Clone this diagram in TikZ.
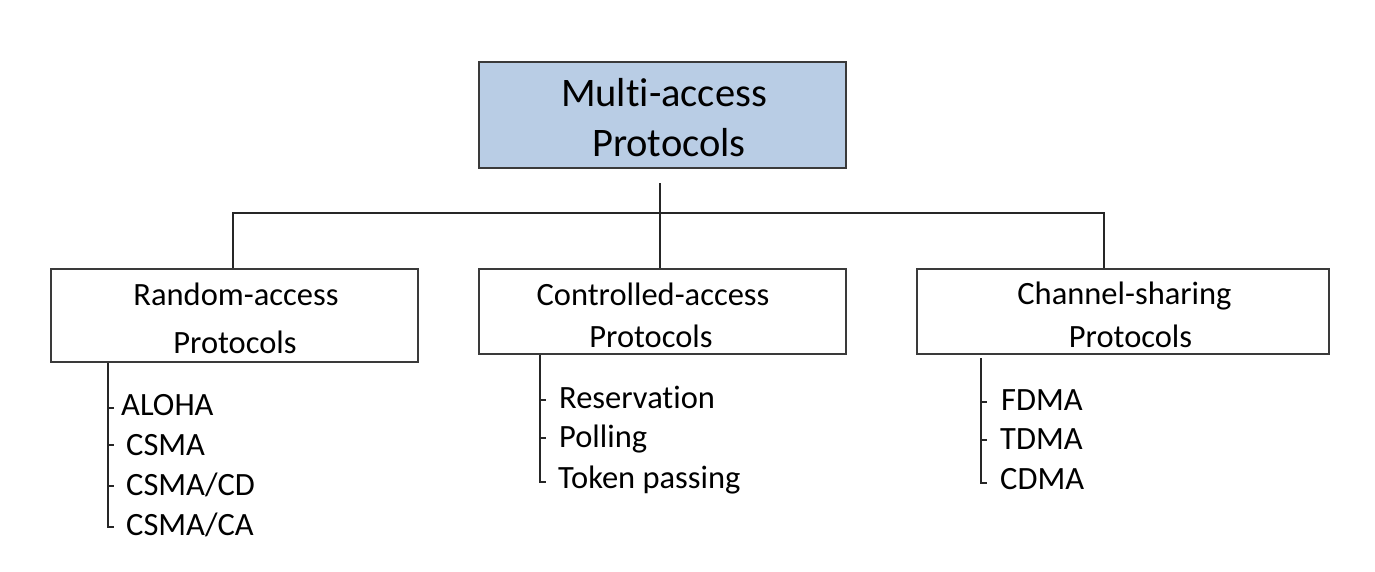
\documentclass[tikz,border=0pt]{standalone}
\usepackage{fontspec}
\setmainfont{Carlito}[Ligatures={NoCommon}]
\definecolor{topfill}{HTML}{B9CDE5}
\definecolor{edge}{HTML}{3A3A3A}
\begin{document}
\begin{tikzpicture}[x=1pt,y=-1pt,
  box/.style={draw=edge,line width=1.8pt,inner sep=0pt},
  big/.style={inner sep=0pt,font=\fontsize{40.5}{48}\selectfont,text height=25.6pt,text depth=0pt},
  mid/.style={inner sep=0pt,font=\fontsize{32.5}{39}\selectfont,text height=20.5pt,text depth=0pt},
  item/.style={inner sep=0pt,anchor=west,font=\fontsize{32.5}{39}\selectfont,text height=20.5pt,text depth=0pt},
  conn/.style={draw=black!85,line width=1.4pt}]
\useasboundingbox (0,0) rectangle (1375,571);
% boxes
\node[box,fill=topfill,minimum width=367,minimum height=106] (top) at (662.5,115) {};
\node[box,minimum width=367,minimum height=92.5] (ra) at (234.5,315.5) {};
\node[box,minimum width=367,minimum height=85] (ca) at (662.5,311.5) {};
\node[box,minimum width=412,minimum height=85] (cs) at (1123,311.5) {};
% box texts
\node[big] (t1) at (664,94) {Multi-access};
\node[big] (t2) at (669,144) {Protocols};
\node[mid] (ra1) at (236,295) {Random-access};
\node[mid] (ra2) at (235,343) {Protocols};
\node[mid] (ca1) at (653,295) {Controlled-access};
\node[mid] (ca2) at (651,337) {Protocols};
\node[mid] (cs1) at (1124.5,294) {Channel-sharing};
\node[mid] (cs2) at (1130.5,337.5) {Protocols};
% tree connectors
\coordinate (s) at (660,183);
\coordinate (j) at (660,213);
\coordinate (jl) at (233,213);
\coordinate (jr) at (1104,213);
\draw[conn] (s) -- (j) -- (ca.north -| j);
\draw[conn] (ra.north -| jl) -- (jl) -- (jr) -- (cs.north -| jr);
% list items
\node[item] (i1) at (121,405) {ALOHA};
\node[item] (i2) at (126,445) {CSMA};
\node[item] (i3) at (126,485) {CSMA/CD};
\node[item] (i4) at (126,525) {CSMA/CA};
\node[item] (m1) at (559,398) {Reservation};
\node[item] (m2) at (559,437) {Polling};
\node[item] (m3) at (558,478) {Token passing};
\node[item] (r1) at (1001,400.5) {FDMA};
\node[item] (r2) at (1000,439) {TDMA};
\node[item] (r3) at (1000,479) {CDMA};
% list connectors
\coordinate (la) at (108,363);
\draw[conn] (la) -- (108,527) -- (114,527);
\foreach \y in {408,445,486}{\draw[conn] (108,\y) -- (114,\y);}
\coordinate (ma) at (540,355);
\draw[conn] (ma) -- (540,482) -- (546,482);
\foreach \y in {400,438}{\draw[conn] (540,\y) -- (546,\y);}
\coordinate (rb) at (981,358);
\draw[conn] (rb) -- (981,483) -- (987,483);
\foreach \y in {402,440}{\draw[conn] (981,\y) -- (987,\y);}
\end{tikzpicture}
\end{document}
